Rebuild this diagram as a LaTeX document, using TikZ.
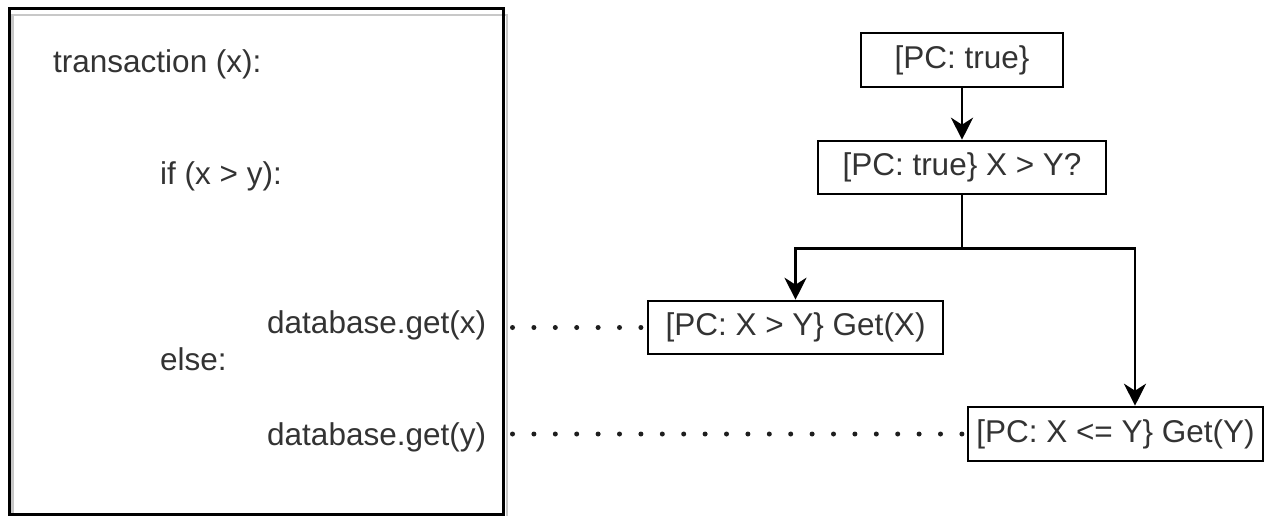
\documentclass[tikz,border=0pt]{standalone}
\usepackage{fontspec}
\setmainfont{Liberation Sans}
\usetikzlibrary{arrows.meta,calc}
\definecolor{txt}{HTML}{333333}
\definecolor{framegray}{HTML}{C8C8C8}
\definecolor{dotcol}{HTML}{1E1E1E}
\tikzset{
  pcbox/.style={draw=black, line width=2.6pt, fill=white, inner sep=0pt, text=txt,
    font=\fontsize{31.5}{36}\selectfont},
  code/.style={anchor=base west, inner sep=0pt, text=txt, font=\fontsize{31.5}{36}\selectfont},
  arr/.style={line width=2.8pt, -{Stealth[length=22pt,width=22pt,inset=7pt]}},
  dotline/.style={line width=5pt, line cap=round, dash pattern=on 0pt off 21.4pt, draw=dotcol}
}
\begin{document}
\begin{tikzpicture}[x=1pt,y=-1pt]
\useasboundingbox (0,0) rectangle (1266,515);
% left code box (shadow + frame)
\draw[draw=framegray, line width=2.5pt] (12.5,15) rectangle (507,520);
\node[draw=black, line width=3pt, minimum width=494pt, minimum height=506pt, inner sep=0pt, anchor=north west] (codebox) at (7.5,7) {};
% code text
\node[code] (t1) at (53,72) {transaction (x):};
\node[code] (t2) at (160,184) {if (x > y):};
\node[code] (dbx) at (267,333) {database.get(x)};
\node[code] (t4) at (160,370) {else:};
\node[code] (dby) at (267,445) {database.get(y)};
% tree nodes
\node[pcbox, minimum width=202pt, minimum height=54pt] (n1) at (962,60) {[PC: true\}};
\node[pcbox, minimum width=288pt, minimum height=53pt] (n2) at (962,167.5) {[PC: true\} X > Y?};
\node[pcbox, minimum width=295pt, minimum height=53pt] (n3) at (795.5,327.5) {[PC: X > Y\} Get(X)};
\node[pcbox, minimum width=295pt, minimum height=54pt] (n4) at (1115.5,434) {[PC: X <= Y\} Get(Y)};
% connectors
\draw[arr] (n1.south) -- (n2.north);
\coordinate (split) at ($(n2.south)+(0,53)$);
\coordinate (n4in) at ($(n4.north)+(19.5,0)$);
\draw[arr] (n2.south) -- (split) -| (n3.north);
\draw[arr] (split) -| (n4in);
% dotted links
\coordinate (dxs) at ($(codebox.east |- n3.west)+(8,0)$);
\coordinate (dys) at ($(codebox.east |- n4.west)+(8,0)$);
\draw[dotline] (dxs) -- (n3.west);
\draw[dotline] (dys) -- (n4.west);
\end{tikzpicture}
\end{document}
